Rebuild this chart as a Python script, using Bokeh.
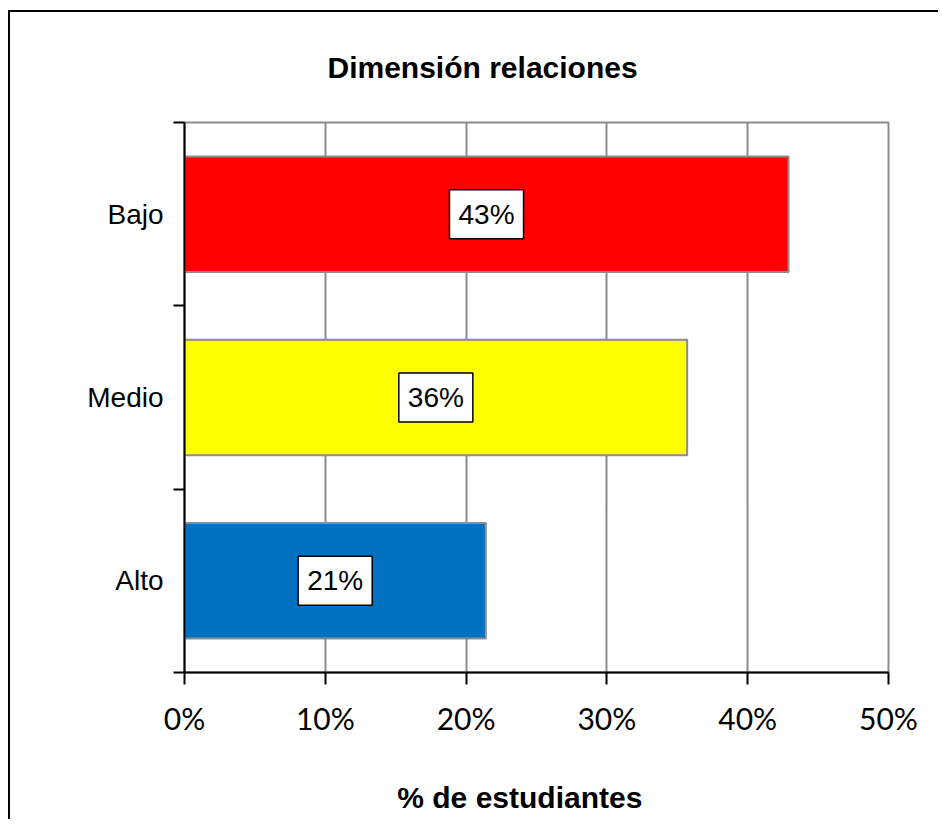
from bokeh.plotting import figure
from bokeh.models import FixedTicker, Label, NumeralTickFormatter, Title
from bokeh.embed import file_html
from bokeh.resources import INLINE

# Data (bottom to top)
categories = ["Alto", "Medio", "Bajo"]
percent = [0.214, 0.357, 0.429]
label_texts = ["21%", "36%", "43%"]
colors = ["#0070C0", "#FFFF00", "#FF0000"]
x_ticks = [0, 0.1, 0.2, 0.3, 0.4, 0.5]
chart_title = "Dimensión relaciones"

positions = [i + 0.5 for i in range(len(categories))]

p = figure(width=930, height=809, output_backend="svg", toolbar_location=None,
           x_range=(0, 0.5), y_range=(0, len(categories)),
           min_border_left=174, min_border_right=52, min_border_top=110, min_border_bottom=149,
           background_fill_color="white", border_fill_color="white")
p.styles = {"border-left": "2px solid black", "border-top": "2px solid black",
            "margin-left": "8px", "margin-top": "10px"}

p.outline_line_color = "#8c8c8c"
p.outline_line_width = 2

p.hbar(y=positions, right=percent, left=0, height=0.63, fill_color=colors,
       line_color="#8c8c8c", line_width=2)

for xv, yv, t in zip(percent, positions, label_texts):
    p.add_layout(Label(x=xv / 2, y=yv, text=t, text_align="center", text_baseline="middle",
                       text_font="Liberation Sans", text_font_size="28px", text_color="black",
                       background_fill_color="white", border_line_color="black",
                       border_line_width=1.5, padding=9))

# x axis
xa = p.xaxis[0]
xa.ticker = FixedTicker(ticks=x_ticks, minor_ticks=[])
xa.formatter = NumeralTickFormatter(format="0%")
xa.axis_line_color = "black"
xa.axis_line_width = 2
xa.major_tick_line_width = 2
xa.major_tick_out = 12
xa.major_tick_in = 0
xa.major_label_text_font = "Lato"
xa.major_label_text_font_size = "30px"
xa.major_label_text_color = "black"
xa.major_label_standoff = 15
xa.axis_label = "%  de estudiantes\u00a0\u00a0\u00a0"
xa.axis_label_text_font = "Liberation Sans"
xa.axis_label_text_font_style = "bold"
xa.axis_label_text_font_size = "30px"
xa.axis_label_text_color = "black"
xa.axis_label_standoff = 42

# y axis
ya = p.yaxis[0]
ya.ticker = FixedTicker(ticks=positions, minor_ticks=list(range(len(categories) + 1)))
ya.major_label_overrides = {pos: c for pos, c in zip(positions, categories)}
ya.axis_line_color = "black"
ya.axis_line_width = 2
ya.major_tick_out = 0
ya.major_tick_in = 0
ya.minor_tick_out = 11
ya.minor_tick_in = 0
ya.minor_tick_line_color = "black"
ya.minor_tick_line_width = 2
ya.major_label_text_font = "Liberation Sans"
ya.major_label_text_font_size = "28px"
ya.major_label_text_color = "black"
ya.major_label_standoff = 10

p.xgrid.grid_line_color = "#8c8c8c"
p.xgrid.grid_line_width = 2
p.ygrid.grid_line_color = None

title = Title(text=chart_title, align="left", offset=143, vertical_align="top",
              text_font="Liberation Sans", text_font_style="bold",
              text_font_size="30px", text_color="black", standoff=74)
p.add_layout(title, "above")

open("out.html", "w").write(file_html(p, INLINE))
